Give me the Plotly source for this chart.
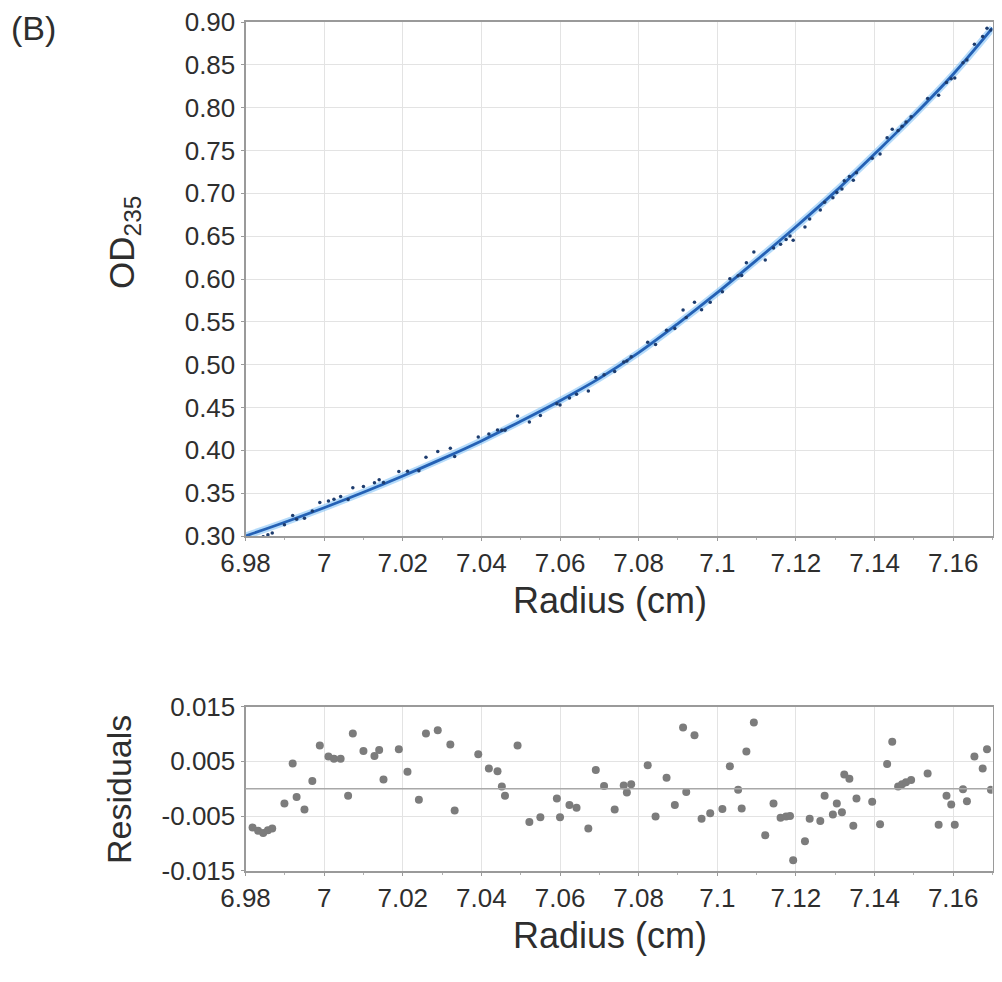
import plotly.graph_objects as go

# ---------------- data ----------------
fit_radius = [6.98, 6.99, 7.00, 7.01, 7.02, 7.03, 7.04, 7.05, 7.06, 7.07,
              7.08, 7.09, 7.10, 7.11, 7.12, 7.13, 7.14, 7.15, 7.16, 7.17]
fit_od = [0.300, 0.316, 0.333, 0.351, 0.370, 0.390, 0.411, 0.434, 0.458, 0.484,
          0.514, 0.548, 0.584, 0.622, 0.661, 0.702, 0.746, 0.791, 0.839, 0.893]

radius = [6.9818, 6.9832, 6.9845, 6.9857, 6.9868, 6.9899, 6.9920, 6.9930, 6.9950, 6.9970,
          6.9989, 7.0011, 7.0025, 7.0042, 7.0061, 7.0073, 7.0100, 7.0128, 7.0140, 7.0151,
          7.0190, 7.0212, 7.0241, 7.0259, 7.0289, 7.0321, 7.0332, 7.0392, 7.0419, 7.0441,
          7.0452, 7.0460, 7.0492, 7.0522, 7.0550, 7.0592, 7.0600, 7.0624, 7.0642, 7.0672,
          7.0691, 7.0712, 7.0739, 7.0762, 7.0770, 7.0781, 7.0823, 7.0843, 7.0871, 7.0892,
          7.0913, 7.0921, 7.0942, 7.0960, 7.0982, 7.1013, 7.1032, 7.1053, 7.1062, 7.1074,
          7.1093, 7.1122, 7.1143, 7.1161, 7.1175, 7.1185, 7.1193, 7.1223, 7.1235, 7.1262,
          7.1273, 7.1294, 7.1304, 7.1317, 7.1323, 7.1336, 7.1346, 7.1354, 7.1394, 7.1414,
          7.1432, 7.1445, 7.1460, 7.1470, 7.1480, 7.1493, 7.1535, 7.1563, 7.1583, 7.1595,
          7.1604, 7.1625, 7.1635, 7.1654, 7.1675, 7.1686, 7.1696]

od = [0.2958, 0.2974, 0.2991, 0.3015, 0.3036, 0.3131, 0.3240, 0.3196, 0.3207, 0.3293,
      0.3390, 0.3409, 0.3430, 0.3461, 0.3427, 0.3562, 0.3579, 0.3623, 0.3657, 0.3624,
      0.3753, 0.3755, 0.3762, 0.3919, 0.3985, 0.4025, 0.3927, 0.4156, 0.4191, 0.4236,
      0.4234, 0.4235, 0.4401, 0.4332, 0.4408, 0.4543, 0.4528, 0.4612, 0.4654, 0.4694,
      0.4851, 0.4881, 0.4919, 0.5032, 0.5043, 0.5091, 0.5261, 0.5235, 0.5401, 0.5423,
      0.5639, 0.5550, 0.5729, 0.5641, 0.5730, 0.5852, 0.6003, 0.6039, 0.6040, 0.6189,
      0.6314, 0.6221, 0.6361, 0.6405, 0.6462, 0.6502, 0.6452, 0.6608, 0.6699, 0.6805,
      0.6896, 0.6948, 0.7011, 0.7052, 0.7147, 0.7196, 0.7154, 0.7240, 0.7410, 0.7458,
      0.7649, 0.7749, 0.7734, 0.7783, 0.7832, 0.7895, 0.8106, 0.8146, 0.8295, 0.8337,
      0.8346, 0.8524, 0.8556, 0.8741, 0.8832, 0.8926, 0.8906]

residuals = [-0.0071, -0.0077, -0.0081, -0.0076, -0.0073, -0.0027, 0.0046, -0.0015, -0.0038, 0.0014,
             0.0079, 0.0059, 0.0055, 0.0055, -0.0013, 0.0101, 0.0069, 0.0060, 0.0071, 0.0017,
             0.0072, 0.0031, -0.0020, 0.0101, 0.0107, 0.0081, -0.0040, 0.0063, 0.0037, 0.0032,
             0.0004, -0.0013, 0.0079, -0.0061, -0.0052, -0.0018, -0.0052, -0.0030, -0.0035, -0.0073,
             0.0034, 0.0005, -0.0038, 0.0006, -0.0007, 0.0008, 0.0043, -0.0051, 0.0020, -0.0030,
             0.0112, -0.0006, 0.0098, -0.0055, -0.0045, -0.0037, 0.0041, -0.0002, -0.0036, 0.0068,
             0.0121, -0.0085, -0.0027, -0.0053, -0.0051, -0.0050, -0.0131, -0.0096, -0.0055, -0.0059,
             -0.0013, -0.0047, -0.0027, -0.0043, 0.0026, 0.0018, -0.0068, -0.0018, -0.0024, -0.0065,
             0.0045, 0.0086, 0.0004, 0.0008, 0.0012, 0.0016, 0.0028, -0.0066, -0.0013, -0.0029,
             -0.0066, -0.0001, -0.0023, 0.0059, 0.0037, 0.0072, -0.0002]

x_tickvals = [6.98, 7.00, 7.02, 7.04, 7.06, 7.08, 7.10, 7.12, 7.14, 7.16]
x_ticktext = ["6.98", "7", "7.02", "7.04", "7.06", "7.08", "7.1", "7.12", "7.14", "7.16"]
od_tickvals = [0.30, 0.35, 0.40, 0.45, 0.50, 0.55, 0.60, 0.65, 0.70, 0.75, 0.80, 0.85, 0.90]
res_tickvals = [-0.015, -0.005, 0.005, 0.015]
res_ticktext = ["-0.015", "-0.005", "0.005", "0.015"]

# ---------------- figure ----------------
# the page body adds an 8 px margin on every side; keep the figure inside the
# window (no scrollbars) and shift reference pixel positions by that offset
OFF = 8
W, H = 1002 - 2 * OFF, 982 - 2 * OFF
FONT = "Liberation Sans, Arial, sans-serif"
TXT = "#2e2e2e"
FRAME = "#9a9a9a"
GRID = "#e3e3e3"

def px(x):
    return (x - OFF) / W

def py(y):
    return 1 - (y - OFF) / H

fig = go.Figure()

# fitted curve (halo + core)
fig.add_trace(go.Scatter(x=fit_radius, y=fit_od, mode="lines",
                         line=dict(color="rgba(120,190,245,0.55)", width=7, shape="spline"),
                         xaxis="x", yaxis="y", hoverinfo="skip", showlegend=False))
fig.add_trace(go.Scatter(x=fit_radius, y=fit_od, mode="lines",
                         line=dict(color="#2461b5", width=2.8, shape="spline"),
                         xaxis="x", yaxis="y", showlegend=False))
# data points
fig.add_trace(go.Scatter(x=radius, y=od, mode="markers", marker=dict(color="#1d3c6e", size=3.5),
                         xaxis="x", yaxis="y", showlegend=False))
# residuals
fig.add_trace(go.Scatter(x=radius, y=residuals, mode="markers",
                         marker=dict(color="#7c7c7c", size=8, symbol="circle"),
                         xaxis="x2", yaxis="y2", showlegend=False))

xdom = [px(245.5), px(992.5)]
axis_common = dict(showline=True, linecolor=FRAME, linewidth=2, mirror=True,
                   ticks="outside", ticklen=3, tickcolor=FRAME, automargin=False,
                   ticklabeloverflow="allow",
                   showgrid=True, gridcolor=GRID, gridwidth=1, zeroline=False,
                   tickfont=dict(family=FONT, size=26, color=TXT))
xminor = dict(dtick=0.01, ticks="outside", ticklen=2, tickcolor="#b0b0b0", showgrid=False)

fig.update_layout(
    width=W, height=H,
    autosize=False,
    margin=dict(l=0, r=0, t=0, b=0, pad=0),
    paper_bgcolor="white", plot_bgcolor="white",
    xaxis=dict(domain=xdom, range=[6.98, 7.17], tickvals=x_tickvals, ticktext=x_ticktext,
               anchor="y", minor=xminor, **axis_common),
    yaxis=dict(domain=[py(536), py(22)], range=[0.30, 0.90], tickvals=od_tickvals,
               tickformat=".2f", anchor="x", **axis_common),
    xaxis2=dict(domain=xdom, range=[6.98, 7.17], tickvals=x_tickvals, ticktext=x_ticktext,
                anchor="y2", minor=xminor, **axis_common),
    yaxis2=dict(domain=[py(870.7), py(706.7)], range=[-0.015, 0.015], tickvals=res_tickvals,
                ticktext=res_ticktext, anchor="x2", **axis_common),
    shapes=[dict(type="line", xref="x2 domain", yref="y2", x0=0, x1=1, y0=0, y1=0,
                 line=dict(color="#a8a8a8", width=1.5))],
    annotations=[
        dict(text="(B)", x=px(33), y=py(28), xref="paper", yref="paper", showarrow=False,
             xanchor="center", yanchor="middle", font=dict(family=FONT, size=34, color=TXT)),
        dict(text="OD<sub>235</sub>", x=px(124), y=py(243), xref="paper", yref="paper",
             xanchor="center", yanchor="middle",
             showarrow=False, textangle=-90, font=dict(family=FONT, size=35, color=TXT)),
        dict(text="Radius (cm)", x=px(610), y=py(600), xref="paper", yref="paper",
             xanchor="center", yanchor="middle",
             showarrow=False, font=dict(family=FONT, size=36, color=TXT)),
        dict(text="Residuals", x=px(119), y=py(790), xref="paper", yref="paper",
             xanchor="center", yanchor="middle",
             showarrow=False, textangle=-90, font=dict(family=FONT, size=34, color=TXT)),
        dict(text="Radius (cm)", x=px(610), y=py(935), xref="paper", yref="paper",
             xanchor="center", yanchor="middle",
             showarrow=False, font=dict(family=FONT, size=36, color=TXT)),
    ],
)

fig.write_html("out.html")
